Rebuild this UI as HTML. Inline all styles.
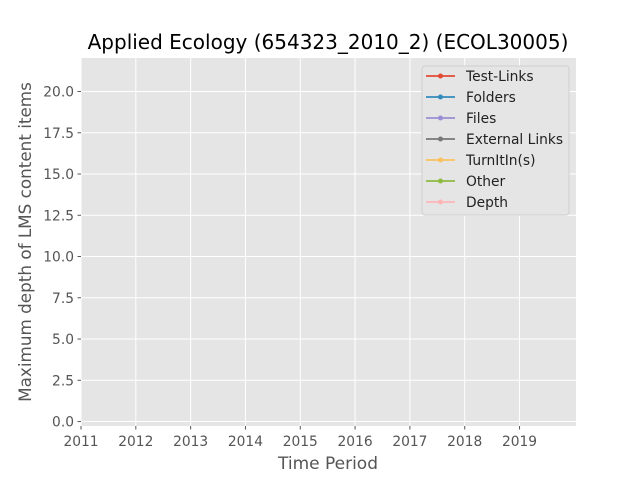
<!DOCTYPE html>
<html><head><meta charset="utf-8"><style>
body{margin:0;background:#fff}
svg{display:block;font-family:"DejaVu Sans","Liberation Sans",sans-serif}
</style></head><body>
<svg id="chart" width="640" height="480" viewBox="0 0 640 480">
<rect x="0" y="0" width="640" height="480" fill="#fff"/>
<rect x="81" y="58" width="495" height="368" fill="#e5e5e5"/>
<g id="grid"></g>
<g id="ticks"></g>
<g id="series"></g>
<text x="328" y="49" text-anchor="middle" font-size="20" fill="#000">Applied Ecology (654323_2010_2) (ECOL30005)</text>
<text x="328" y="469" text-anchor="middle" font-size="17" fill="#555">Time Period</text>
<text transform="translate(31,242) rotate(-90)" text-anchor="middle" font-size="16.8" fill="#555">Maximum depth of LMS content items</text>
<g id="legend">
<rect x="422" y="66" width="147" height="149" rx="3" fill="#e5e5e5" stroke="#d0d0d0" stroke-width="1"/>
</g>
</svg>
<script>
const xTicks=[2011,2012,2013,2014,2015,2016,2017,2018,2019];
const yTicks=[0,2.5,5,7.5,10,12.5,15,17.5,20];
const seriesNames=["Test-Links","Folders","Files","External Links","TurnItIn(s)","Other","Depth"];
const seriesColors=["#E24A33","#348ABD","#988ED5","#777777","#FBC15E","#8EBA42","#FFB5B8"];
const periods=[];
const testLinks=[],folders=[],files=[],externalLinks=[],turnitins=[],other=[],depth=[];
const seriesValues=[testLinks,folders,files,externalLinks,turnitins,other,depth];
const NS="http://www.w3.org/2000/svg";
const L=81,R=576,T=58,B=426;
const xMin=2011,xMax=2020.03,yMin=-0.27,yMax=22.03;
const xs=v=>L+(v-xMin)/(xMax-xMin)*(R-L);
const ys=v=>B-(v-yMin)/(yMax-yMin)*(B-T);
function mk(tag,attrs,parent){const e=document.createElementNS(NS,tag);for(const k in attrs)e.setAttribute(k,attrs[k]);parent.appendChild(e);return e;}
const grid=document.getElementById('grid'),ticks=document.getElementById('ticks'),ser=document.getElementById('series'),leg=document.getElementById('legend');
xTicks.forEach(t=>{const x=xs(t);
 const g=mk('line',{x1:x,x2:x,y1:T,y2:B,stroke:'#fff','stroke-width':1},grid);
 
 
 const tk=mk('line',{x1:x,x2:x,y1:B,y2:B+3.5,stroke:'#555','stroke-width':1},ticks);
 
 
 const tx=mk('text',{x:x,y:B+20,'text-anchor':'middle','font-size':13.8,fill:'#555'},ticks);
 tx.textContent=t;
 
 
});
yTicks.forEach(t=>{const y=ys(t);
 const g=mk('line',{x1:L,x2:R,y1:y,y2:y,stroke:'#fff','stroke-width':1},grid);
 
 
 const tk=mk('line',{x1:L-3.5,x2:L,y1:y,y2:y,stroke:'#555','stroke-width':1},ticks);
 
 
 const tx=mk('text',{x:L-7,y:y+5,'text-anchor':'end','font-size':13.8,fill:'#555'},ticks);
 tx.textContent=t.toFixed(1);
 
 
});
seriesValues.forEach((vals,i)=>{
 if(!vals.length)return;
 const pts=vals.map((v,j)=>xs(periods[j])+','+ys(v)).join(' ');
 const pl=mk('polyline',{points:pts,fill:'none',stroke:seriesColors[i],'stroke-width':1.5},ser);
 
 
 vals.forEach((v,j)=>{const c=mk('circle',{cx:xs(periods[j]),cy:ys(v),r:2.5,fill:seriesColors[i]},ser);
  
  });
});
seriesNames.forEach((n,i)=>{const y=76+i*21;
 const g=mk('g',{},leg);
 
 
 mk('line',{x1:426,x2:455,y1:y,y2:y,stroke:seriesColors[i],'stroke-width':1.8},g);
 mk('circle',{cx:440.5,cy:y,r:2.5,fill:seriesColors[i]},g);
 const t=mk('text',{x:466,y:y+5,'font-size':13.8,fill:'#222'},g);
 t.textContent=n;
});
</script>
</body></html>
